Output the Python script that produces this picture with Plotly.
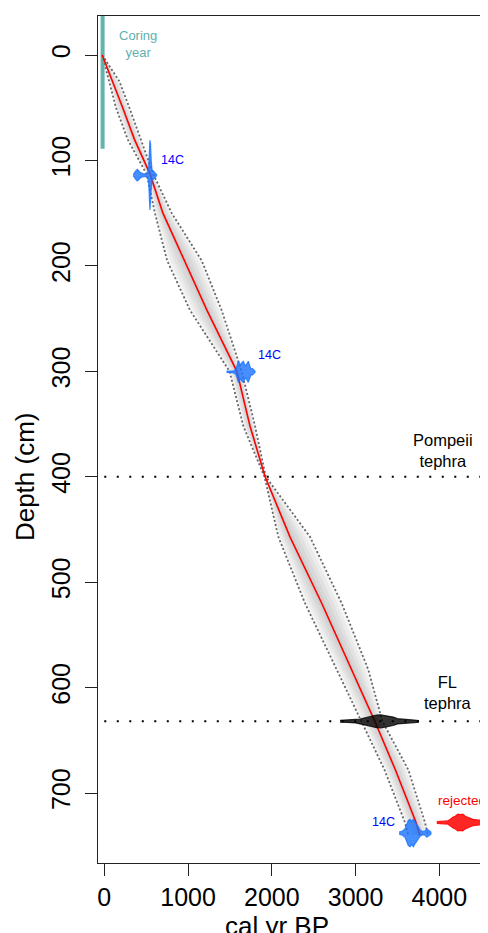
import plotly.graph_objects as go

# ---------------- data ----------------
model_depth = [0, 25, 50, 80, 113, 150, 195, 242, 300, 352, 400, 457, 520, 583, 632, 678, 728, 740]
model_mean  = [-25, 100, 220, 360, 547, 700, 960, 1225, 1583, 1740, 1920, 2217, 2596, 2954, 3230, 3475, 3722, 3765]
model_min   = [-25, 60, 140, 279, 505, 605, 750, 1023, 1495, 1660, 1912, 2078, 2396, 2775, 3073, 3345, 3590, 3630]
model_max   = [-25, 180, 300, 438, 585, 805, 1163, 1401, 1640, 1800, 1928, 2456, 2834, 3152, 3320, 3630, 3829, 3865]

coring_age = -20
coring_depth_span = [-40, 89]

date1_depth = 114
date1_age = [345, 360, 380, 395, 410, 430, 460, 490, 515, 530, 538, 545, 552, 560, 570, 585, 600, 615, 625]
date1_h   = [0.5, 2.5, 4.5, 5.5, 4.5, 2.5, 1.5, 1.2, 2.0, 6, 22, 33, 30, 14, 5, 4, 3, 1.5, 0.5]

date2_depth = 300.5
date2_age = [1460, 1500, 1550, 1575, 1590, 1600, 1615, 1630, 1645, 1660, 1675, 1690, 1705, 1720, 1735, 1750, 1770, 1790, 1800]
date2_h   = [0.6, 0.8, 1.0, 3, 7, 10, 8, 7, 9, 10, 7, 6, 8, 10, 6, 3, 3, 1.5, 0.5]

fl_depth = 632
fl_age = [2815, 2900, 3000, 3050, 3100, 3150, 3200, 3250, 3300, 3350, 3400, 3450, 3500, 3550, 3600, 3700, 3750]
fl_h   = [0.9, 1.1, 1.5, 2, 3, 4, 5, 6, 6.2, 5.5, 5, 4, 2.5, 2, 1.5, 1.2, 0.8]

date4_depth = 738
date4_age = [3520, 3560, 3590, 3610, 3630, 3650, 3670, 3690, 3710, 3730, 3750, 3770, 3800, 3830, 3850, 3870, 3900]
date4_h   = [1, 2, 4, 8, 12, 13, 11, 13, 10, 8, 6, 3, 1.5, 2, 4, 3, 1]

rej_depth = 728
rej_age = [3970, 4050, 4100, 4130, 4160, 4190, 4220, 4250, 4280, 4310, 4340, 4370, 4400, 4450, 4500, 4550, 4620]
rej_h   = [0.8, 1.2, 1.5, 3, 5, 6, 8, 7.5, 8, 6, 5, 4, 3, 2.5, 2, 1.5, 1]

tephra_depths = [400, 632]

x_ticks = [0, 1000, 2000, 3000, 4000]
y_ticks = [0, 100, 200, 300, 400, 500, 600, 700]

# ---------------- figure ----------------
FONT = "Liberation Sans, Arial, sans-serif"
fig = go.Figure()

# grey shading of the age-model envelope (layered bands)
for f in [1.0, 0.8, 0.6, 0.4, 0.2]:
    lo = [m - f * (m - a) for m, a in zip(model_mean, model_min)]
    hi = [m + f * (b - m) for m, b in zip(model_mean, model_max)]
    fig.add_trace(go.Scatter(x=lo + hi[::-1], y=model_depth + model_depth[::-1],
                             fill="toself", fillcolor="rgba(0,0,0,0.04)",
                             line=dict(width=0), mode="lines", hoverinfo="skip",
                             showlegend=False))

# dotted envelope limits
for arr in (model_min, model_max):
    fig.add_trace(go.Scatter(x=arr, y=model_depth, mode="lines",
                             line=dict(color="#666666", width=1.8, dash="2px,2.2px"),
                             showlegend=False, hoverinfo="skip"))

# tephra dotted lines
for d in tephra_depths:
    fig.add_trace(go.Scatter(x=[0, 4650], y=[d, d], mode="lines",
                             line=dict(color="black", width=2, dash="2px,10.5px"),
                             showlegend=False, hoverinfo="skip"))

# coring year
fig.add_trace(go.Scatter(x=[coring_age, coring_age], y=coring_depth_span, mode="lines",
                         line=dict(color="rgba(70,165,160,0.85)", width=4),
                         showlegend=False, hoverinfo="skip"))

# mean age model
fig.add_trace(go.Scatter(x=model_mean, y=model_depth, mode="lines",
                         line=dict(color="red", width=1.6),
                         showlegend=False, hoverinfo="skip"))


def blob(ages, h, depth, color):
    xs = ages + ages[::-1]
    ys = [depth - v for v in h] + [depth + v for v in h[::-1]]
    fig.add_trace(go.Scatter(x=xs, y=ys, fill="toself", fillcolor=color, mode="lines",
                             line=dict(color=color, width=1.2),
                             showlegend=False, hoverinfo="skip"))


blue = "rgba(25,115,255,0.8)"
blob(date1_age, date1_h, date1_depth, blue)
blob(date2_age, date2_h, date2_depth, blue)
blob(fl_age, fl_h, fl_depth, "rgba(0,0,0,0.8)")
blob(date4_age, date4_h, date4_depth, blue)
blob(rej_age, rej_h, rej_depth, "rgba(255,0,0,0.85)")

annotations = [
    dict(x=402, y=-10.4, text="Coring<br>year", font=dict(color="#5fb0ad", size=13)),
    dict(x=815, y=99.6, text="14C", font=dict(color="blue", size=12.5)),
    dict(x=1975, y=284.5, text="14C", font=dict(color="blue", size=12.5)),
    dict(x=3336, y=727.2, text="14C", font=dict(color="blue", size=12.5)),
    dict(x=4275, y=707.3, text="rejected", font=dict(color="red", size=13.5)),
    dict(x=4038, y=374.7, text="Pompeii<br>tephra", font=dict(color="black", size=16.5)),
    dict(x=4098, y=605, text="FL<br>tephra", font=dict(color="black", size=16.5)),
]
for a in annotations:
    a.update(xref="x", yref="y", showarrow=False, xanchor="center", yanchor="middle")
    a["font"]["family"] = FONT
    fig.add_annotation(**a)

fig.add_annotation(x=2062, y=-0.0744, xref="x", yref="paper", text="cal yr BP",
                   showarrow=False, xanchor="center", yanchor="middle",
                   font=dict(size=26, family=FONT, color="black"))
fig.add_annotation(x=-0.187, y=0.4557, xref="paper", yref="paper", text="Depth (cm)",
                   textangle=-90, showarrow=False, xanchor="center", yanchor="middle",
                   font=dict(size=26, family=FONT, color="black"))

# page body has an 8px margin: figure is sized/offset so the plot box lands
# at the same window pixels as the reference
fig.update_layout(
    width=480, height=925,
    margin=dict(l=90, r=0, t=8, b=70),
    paper_bgcolor="white", plot_bgcolor="white",
    template=None,
    font=dict(family=FONT, color="black"),
    xaxis=dict(range=[-75, 4581], tickvals=x_ticks, ticktext=[str(v) for v in x_ticks],
               showline=True, linecolor="#222", linewidth=1.3, mirror=True,
               ticks="outside", ticklen=12, tickwidth=1.3, tickcolor="#222",
               tickfont=dict(size=25, family=FONT, color="black"),
               showgrid=False, zeroline=False),
    yaxis=dict(range=[766.4, -37], tickvals=y_ticks, ticktext=[str(v) for v in y_ticks],
               tickangle=-90, ticklabelstandoff=5,
               showline=True, linecolor="#222", linewidth=1.3, mirror=False,
               ticks="outside", ticklen=12, tickwidth=1.3, tickcolor="#222",
               tickfont=dict(size=25, family=FONT, color="black"),
               showgrid=False, zeroline=False),
)

fig.write_html("out.html")
